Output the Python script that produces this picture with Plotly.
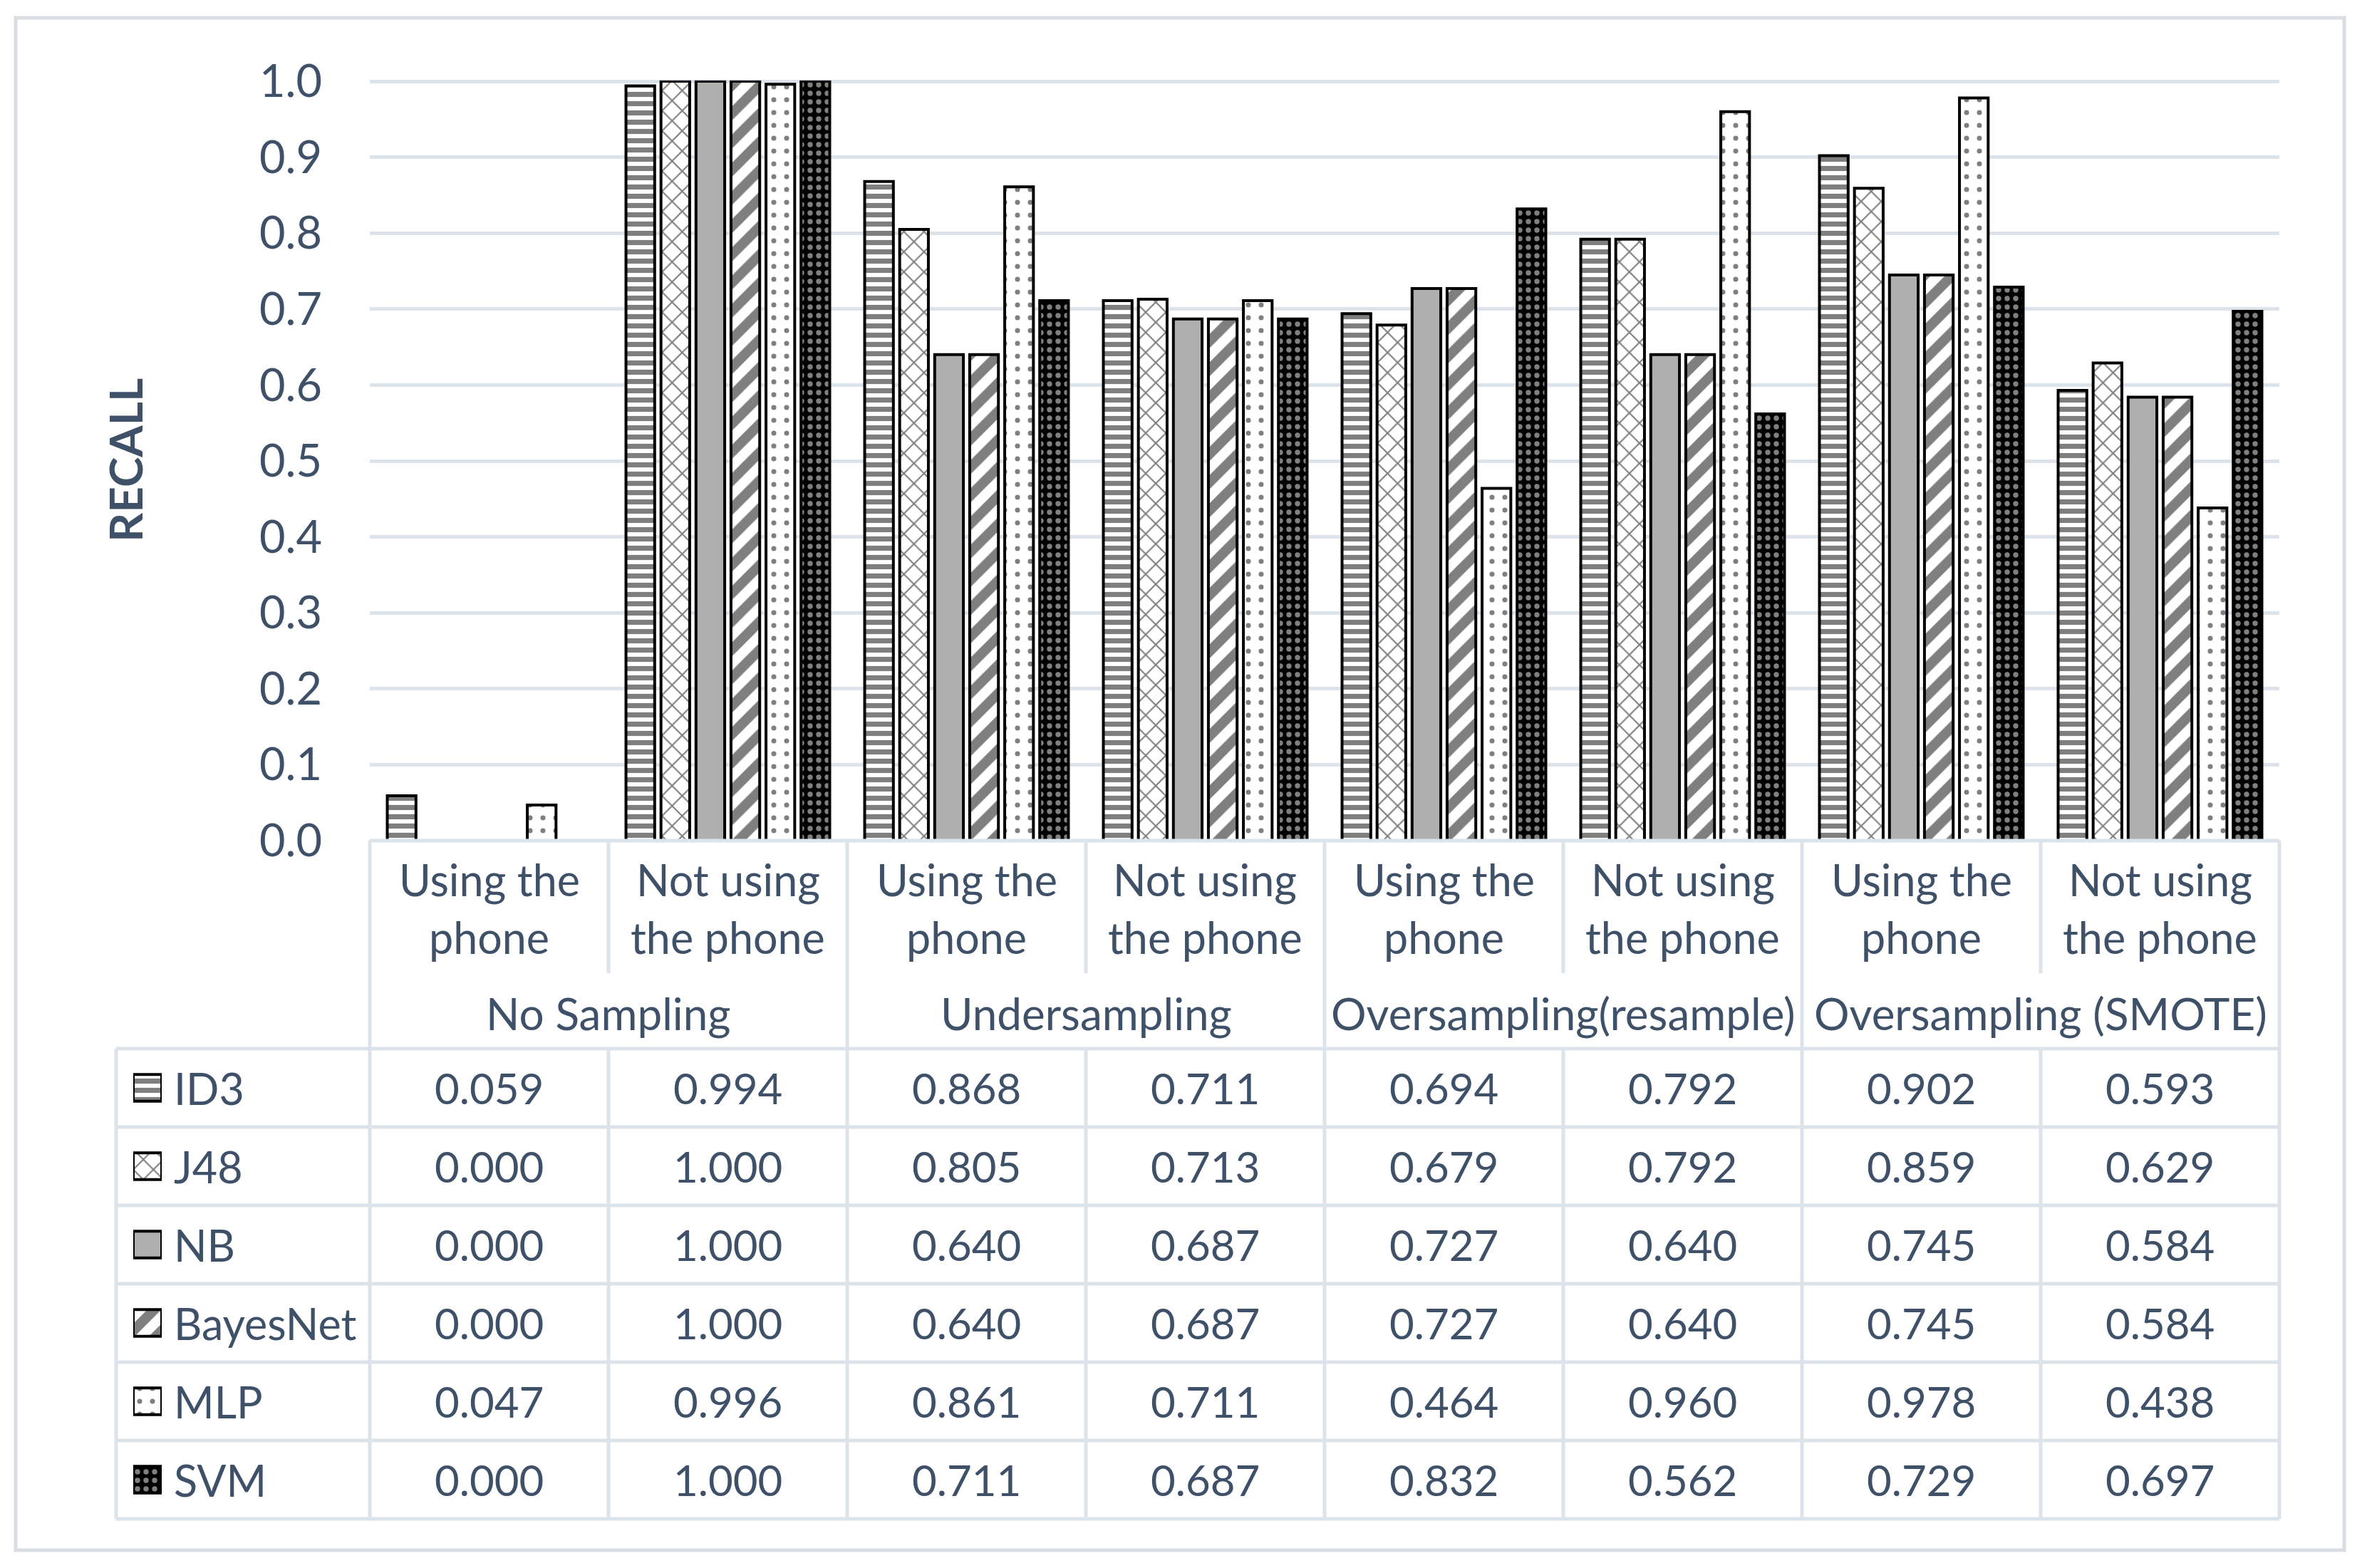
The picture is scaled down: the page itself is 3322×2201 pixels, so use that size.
import plotly.graph_objects as go

groups = ["No Sampling", "Undersampling", "Oversampling(resample)", "Oversampling (SMOTE)"]
classes = ["Using the<br>phone", "Not using<br>the phone"]
models = ["ID3", "J48", "NB", "BayesNet", "MLP", "SVM"]

id3 = [0.059, 0.994, 0.868, 0.711, 0.694, 0.792, 0.902, 0.593]
j48 = [0.000, 1.000, 0.805, 0.713, 0.679, 0.792, 0.859, 0.629]
nb = [0.000, 1.000, 0.640, 0.687, 0.727, 0.640, 0.745, 0.584]
bayesnet = [0.000, 1.000, 0.640, 0.687, 0.727, 0.640, 0.745, 0.584]
mlp = [0.047, 0.996, 0.861, 0.711, 0.464, 0.960, 0.978, 0.438]
svm = [0.000, 1.000, 0.711, 0.687, 0.832, 0.562, 0.729, 0.697]
values = [id3, j48, nb, bayesnet, mlp, svm]

# bar looks (excel-ish fill patterns)
styles = {
    "ID3": dict(color="white", pattern=dict(shape="-", size=13, solidity=0.55, fgcolor="black", bgcolor="white")),
    "J48": dict(color="white", pattern=dict(shape="x", size=20, solidity=0.2, fgcolor="black", bgcolor="white")),
    "NB": dict(color="#AFAFAF"),
    "BayesNet": dict(color="white", pattern=dict(shape="/", size=28, solidity=0.5, fgcolor="black", bgcolor="white")),
    "MLP": dict(color="white", pattern=dict(shape=".", size=18, solidity=0.12, fgcolor="black", bgcolor="white")),
    "SVM": dict(color="black", pattern=dict(shape=".", size=12, solidity=0.3, fgcolor="white", bgcolor="black")),
}

TXT = "#3F5169"
GRID = "#DCE3EA"
FONT = "Lato, Open Sans, sans-serif"

# page is W x H, the html body adds an 8px margin around the figure
W, H = 3322, 2201
OFF = 8
FW, FH = W - 2 * OFF, H - 2 * OFF
L, R, T, B = 100, 100, 60, 60


def px(x):
    return (x - OFF - L) / (FW - L - R)


def py(y):
    return (FH - B - (y - OFF)) / (FH - T - B)


# pixel layout (page coords) of the chart + data table
x0, x1 = 519, 3199
y_top, y_zero = 113, 1180
colw = (x1 - x0) / 8
tbl_left = 163
row_top = 1472
rowh = 110

xcat = [[g for g in groups for _ in classes], [c for _ in groups for c in classes]]

fig = go.Figure()
for name, vals in zip(models, values):
    st = styles[name]
    fig.add_trace(go.Bar(
        x=xcat, y=[v if v > 0 else None for v in vals], name=name,
        marker=dict(line=dict(color="black", width=4), **st),
        cliponaxis=False, showlegend=False, hoverinfo="skip"))
    # legend key inside the table
    fig.add_trace(go.Bar(
        x=[1], y=[name], orientation="h", xaxis="x2", yaxis="y2",
        width=0.34, offset=-0.17,
        marker=dict(line=dict(color="black", width=4), **st),
        showlegend=False, hoverinfo="skip"))

fig.update_layout(
    width=FW, height=FH,
    margin=dict(l=L, r=R, t=T, b=B),
    paper_bgcolor="white", plot_bgcolor="white",
    barmode="group", bargap=0.12, bargroupgap=0.18,
    font=dict(family=FONT, color=TXT),
    xaxis=dict(domain=[px(x0), px(x1)], showticklabels=False, showgrid=False,
               zeroline=False, showline=False, ticks="", showdividers=False, anchor="y"),
    yaxis=dict(domain=[py(y_zero), py(y_top)], range=[0, 1.001], dtick=0.1, tickformat=".1f",
               gridcolor=GRID, gridwidth=5, zeroline=False, showline=False, ticks="",
               tickfont=dict(size=63, color=TXT, family=FONT), ticklabelstandoff=66, anchor="x"),
    xaxis2=dict(domain=[px(187), px(227)], range=[0, 1], visible=False, anchor="y2"),
    yaxis2=dict(domain=[py(row_top + 6 * rowh), py(row_top)], type="category",
                categoryarray=models, autorange="reversed", visible=False, anchor="x2"),
)

shapes = []


def hline(y, xa, xb):
    shapes.append(dict(type="line", xref="paper", yref="paper", x0=px(xa), x1=px(xb),
                       y0=py(y), y1=py(y), line=dict(color=GRID, width=5)))


def vline(x, ya, yb):
    shapes.append(dict(type="line", xref="paper", yref="paper", x0=px(x), x1=px(x),
                       y0=py(ya), y1=py(yb), line=dict(color=GRID, width=5)))


hline(y_zero, x0, x1)
for i in range(7):
    hline(row_top + i * rowh, tbl_left, x1)
for k in range(0, 9, 2):
    vline(x0 + k * colw, y_zero, row_top + 6 * rowh)
for k in range(1, 8, 2):
    vline(x0 + k * colw, y_zero, 1366)
    vline(x0 + k * colw, row_top, row_top + 6 * rowh)
vline(tbl_left, row_top, row_top + 6 * rowh)
# outer chart border
shapes.append(dict(type="rect", xref="paper", yref="paper", x0=px(22), x1=px(3290),
                   y0=py(2176), y1=py(25), line=dict(color="#D9DEE4", width=5)))
fig.update_layout(shapes=shapes)

ann = []


def text(x, y, s, size=61, anchor="center", bold=False, angle=0):
    ann.append(dict(x=px(x), y=py(y), xref="paper", yref="paper", text=f"<b>{s}</b>" if bold else s,
                    showarrow=False, xanchor=anchor, yanchor="middle", textangle=angle,
                    font=dict(size=size, color=TXT, family=FONT)))


text(175, 646, "RECALL", size=64, bold=True, angle=-90)
for gi, g in enumerate(groups):
    text(x0 + (2 * gi + 1) * colw, 1422, g, size=62)
    for ci, c in enumerate(classes):
        cx = x0 + (2 * gi + ci + 0.5) * colw
        l1, l2 = c.split("<br>")
        text(cx, 1234, l1)
        text(cx, 1315, l2)
for ri, (name, vals) in enumerate(zip(models, values)):
    cy = row_top + (ri + 0.5) * rowh
    text(242, cy, name, anchor="left")
    for k, v in enumerate(vals):
        text(x0 + (k + 0.5) * colw, cy, f"{v:.3f}", size=60)
fig.update_layout(annotations=ann)

fig.write_html("out.html")
